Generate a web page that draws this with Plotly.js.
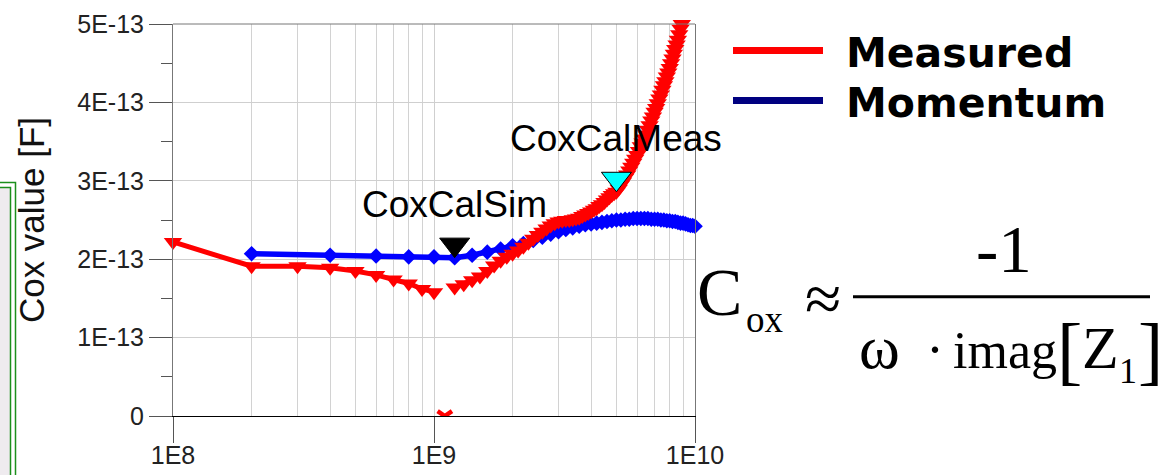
<!DOCTYPE html>
<html>
<head>
<meta charset="utf-8">
<script src="https://cdn.plot.ly/plotly-3.0.1.min.js"></script>
<style>html,body{margin:0;padding:0;background:#fff;}#chart{width:1169px;height:475px;}</style>
</head>
<body>
<div id="chart"></div>
<script>
// ---- data (frequency in GHz, capacitance in units of 1E-13 F) ----
const measuredFreqGHz = [0.1,0.2,0.3,0.4,0.5,0.6,0.7,0.8,0.9,1.0,1.1,
  1.2,1.3,1.4,1.5,1.6,1.7,1.8,1.9,2.0,2.1,2.2,2.3,2.4,2.5,2.6,2.7,2.8,2.9,
  3.0,3.1,3.2,3.3,3.4,3.5,3.6,3.7,3.8,3.9,4.0,4.1,4.2,4.3,4.4,4.5,4.6,4.7,4.8,4.9,
  5.0,5.1,5.2,5.3,5.4,5.5,5.6,5.7,5.8,5.9,6.0,6.1,6.2,6.3,6.4,6.5,6.6,6.7,6.8,6.9,
  7.0,7.1,7.2,7.3,7.4,7.5,7.6,7.7,7.8,7.9,8.0,8.1,8.2,8.3,8.4,8.5,8.6,8.7,8.8,8.9];
const measuredCox = [2.22,1.91,1.91,1.89,1.85,1.80,1.74,1.69,1.62,1.58,null,
  1.64,1.68,1.73,1.78,1.85,1.92,1.98,2.03,2.07,2.11,2.16,2.21,2.26,2.31,2.35,2.39,2.43,2.46,
  2.48,2.49,2.50,2.50,2.51,2.52,2.53,2.55,2.57,2.59,2.61,2.63,2.65,2.68,2.70,2.73,2.76,2.79,2.82,2.84,
  2.86,2.90,2.95,2.99,3.04,3.08,3.13,3.18,3.23,3.28,3.33,3.38,3.44,3.49,3.54,3.59,3.65,3.71,3.77,3.82,
  3.88,3.93,3.99,4.05,4.10,4.16,4.22,4.27,4.33,4.38,4.44,4.50,4.56,4.62,4.68,4.74,4.80,4.87,4.94,5.00];
const measuredOutlierFreqGHz = [1.1];
const measuredOutlierCox = [0];

const momentumFreqGHz = [0.2,0.4,0.6,0.8,1.0,1.2,1.4,1.6,1.8,2.0,2.2,2.4,2.6,2.8,3.0,3.2,3.4,3.6,3.8,4.0,
  4.2,4.4,4.6,4.8,5.0,5.2,5.4,5.6,5.8,6.0,6.2,6.4,6.6,6.8,7.0,7.2,7.4,7.6,7.8,8.0,
  8.2,8.4,8.6,8.8,9.0,9.2,9.4,9.6,9.8,10.0];
const momentumCox = [2.07,2.05,2.04,2.03,2.03,2.02,2.05,2.09,2.13,2.17,2.20,2.24,2.28,2.32,2.35,2.38,2.40,2.42,2.44,2.45,
  2.46,2.47,2.48,2.49,2.50,2.50,2.51,2.51,2.52,2.52,2.52,2.52,2.52,2.51,2.51,2.51,2.50,2.50,2.49,2.49,
  2.48,2.48,2.47,2.46,2.46,2.45,2.44,2.43,2.43,2.42];

const markerNames = ["CoxCalSim","CoxCalMeas"];
const markerFreqGHz = [1.2, 5.0];
const markerCox = [2.02, 2.86];
const markerColors = ["#000000","#00FFFF"];

const yTickVals = [0,1,2,3,4,5];
const yTickText = ["0","1E-13","2E-13","3E-13","4E-13","5E-13"];
const xTickVals = [0.1,1,10];
const xTickText = ["1E8","1E9","1E10"];
const legendNames = ["Measured","Momentum"];
const legendColors = ["#FF0000","#000080"];

// ---- helpers ----
const GHZ = 1e9, UNIT = 1e-13;
const hz = a => a.map(v => v*GHZ);
const farad = a => a.map(v => v === null ? null : v*UNIT);

// plot area in pixels: left 173, right 695, top 24, bottom 416
const L=173, R=695, T=24, B=416;
const px = x => (x-L)/(R-L);
const py = y => (B-y)/(B-T);

const traces = [
  {x: hz(momentumFreqGHz), y: farad(momentumCox), mode:'lines+markers', name:'Momentum',
   line:{color:'#0000FF', width:5.5}, marker:{symbol:'diamond', size:12, color:'#0000FF'},
   showlegend:false, cliponaxis:false},
  {x: hz(measuredFreqGHz), y: farad(measuredCox), mode:'lines+markers', name:'Measured',
   line:{color:'#FF0000', width:5}, marker:{symbol:'triangle-down', size:16, color:'#FF0000'},
   showlegend:false, cliponaxis:false, connectgaps:false},
  {x: hz(measuredOutlierFreqGHz), y: farad(measuredOutlierCox), mode:'markers', name:'Measured',
   marker:{symbol:'y-down', size:12, color:'#FF0000', line:{color:'#FF0000', width:4.5}},
   showlegend:false, cliponaxis:true}
];
markerNames.forEach((n,i) => {
  traces.push({x: hz([markerFreqGHz[i]]), y: farad([markerCox[i]]), mode:'markers', name:n,
    marker:{symbol:'triangle-up', angle:180, size:26, standoff:13, color:markerColors[i],
            line:{color:'#000', width:1}}, showlegend:false, cliponaxis:false});
});

const annotations = [];
markerNames.forEach((n,i) => {
  annotations.push({x: Math.log10(markerFreqGHz[i]*GHZ), y: markerCox[i]*UNIT, xref:'x', yref:'y',
    text:n, showarrow:false, xanchor:'center', yanchor:'middle', yshift:53,
    font:{family:'Liberation Sans, Arial', size:37, color:'#000'}});
});
// legend (drawn manually to match the slide style)
const legendY = [52.5, 102.5];
legendNames.forEach((n,i) => {
  annotations.push({x: px(844), y: py(legendY[i]), xref:'paper', yref:'paper', text:'<b>'+n+'</b>',
    showarrow:false, xanchor:'left', yanchor:'middle',
    font:{family:'DejaVu Sans', size:41, color:'#000'}});
});
// formula: pieces placed on a common baseline (box centre = baseline - 0.3375*size)
const serif = 'Liberation Serif, Times New Roman';
const f = (t, x, baseline, size, xa) => annotations.push({x: px(x), y: py(baseline - 0.3375*size),
  xref:'paper', yref:'paper', text:t, showarrow:false, xanchor: xa || 'center', yanchor:'middle',
  borderpad:0, font:{family:serif, size:size, color:'#000'}});
f('C', 719.5, 315, 68);
f('ox', 745, 332, 37, 'left');
f('≈', 822.5, 321, 66);
f('-1', 1003.5, 272, 67);
f('ω', 858, 368, 62, 'left');
f('·', 935, 368, 54);
f('imag', 952, 368, 52, 'left');
f('[', 1056, 376, 76, 'left');
f('Z', 1081, 368, 60, 'left');
f('1', 1118, 383, 36, 'left');
f(']', 1137, 376, 76, 'left');

const shapes = legendNames.map((n,i) => ({type:'line', xref:'paper', yref:'paper',
  x0: px(733), x1: px(823), y0: py(legendY[i]-2), y1: py(legendY[i]-2),
  line:{color: legendColors[i], width:7}}));
shapes.push({type:'line', xref:'paper', yref:'paper', x0:px(853), x1:px(1150), y0:py(296.7), y1:py(296.7),
  line:{color:'#000', width:3}});
// top border of plot
shapes.push({type:'line', xref:'paper', yref:'paper', x0:0, x1:1, y0:1, y1:1, line:{color:'#777', width:1}});
// green slide frame at left
shapes.push({type:'rect', xref:'paper', yref:'paper', x0:px(-20), x1:px(15.5), y0:py(500), y1:py(182.5),
  line:{color:'#1b8f1b', width:1.5}, fillcolor:'rgba(0,0,0,0)', layer:'above'});
shapes.push({type:'rect', xref:'paper', yref:'paper', x0:px(-20), x1:px(10.5), y0:py(500), y1:py(187.5),
  line:{color:'#1b8f1b', width:1.5}, fillcolor:'#efebef', layer:'above'});

const tickFont = {family:'Liberation Sans, Arial', size:25, color:'#222'};
const layout = {
  width:1169, height:475,
  margin:{l:L, r:1169-R, t:T, b:475-B, pad:0},
  paper_bgcolor:'#ffffff', plot_bgcolor:'#ffffff',
  showlegend:false,
  xaxis:{type:'log', range:[8,10], tickvals: hz(xTickVals), ticktext: xTickText, tickmode:'array',
    ticks:'outside', ticklen:26, tickcolor:'#555', tickwidth:1, tickfont: tickFont, ticklabelstandoff:-9,
    showgrid:true, gridcolor:'#cfcfcf', gridwidth:1,
    minor:{tickvals: hz([0.2,0.3,0.4,0.5,0.6,0.7,0.8,0.9,2,3,4,5,6,7,8,9]), showgrid:true,
           gridcolor:'#d2d2d2', gridwidth:1, ticks:''},
    showline:true, linecolor:'#000', linewidth:1, mirror:false, zeroline:false, fixedrange:true},
  yaxis:{range:[0,5*UNIT], tickvals: farad(yTickVals), ticktext: yTickText, tickmode:'array',
    ticks:'outside', ticklen:23, tickcolor:'#555', tickwidth:1, tickfont: tickFont,
    showgrid:true, gridcolor:'#cfcfcf', gridwidth:1,
    minor:{tickvals: farad([0.5,1.5,2.5,3.5,4.5]), ticks:'outside', ticklen:11, tickcolor:'#555', showgrid:false},
    showline:true, linecolor:'#777', linewidth:1, mirror:true, zeroline:true, zerolinecolor:'#000', zerolinewidth:1,
    title:{text:'Cox value [F]', font:{family:'Liberation Sans, Arial', size:35, color:'#111'}, standoff:22},
    fixedrange:true},
  annotations: annotations,
  shapes: shapes
};
Plotly.newPlot('chart', traces, layout, {staticPlot:true, displayModeBar:false});
</script>
</body>
</html>
